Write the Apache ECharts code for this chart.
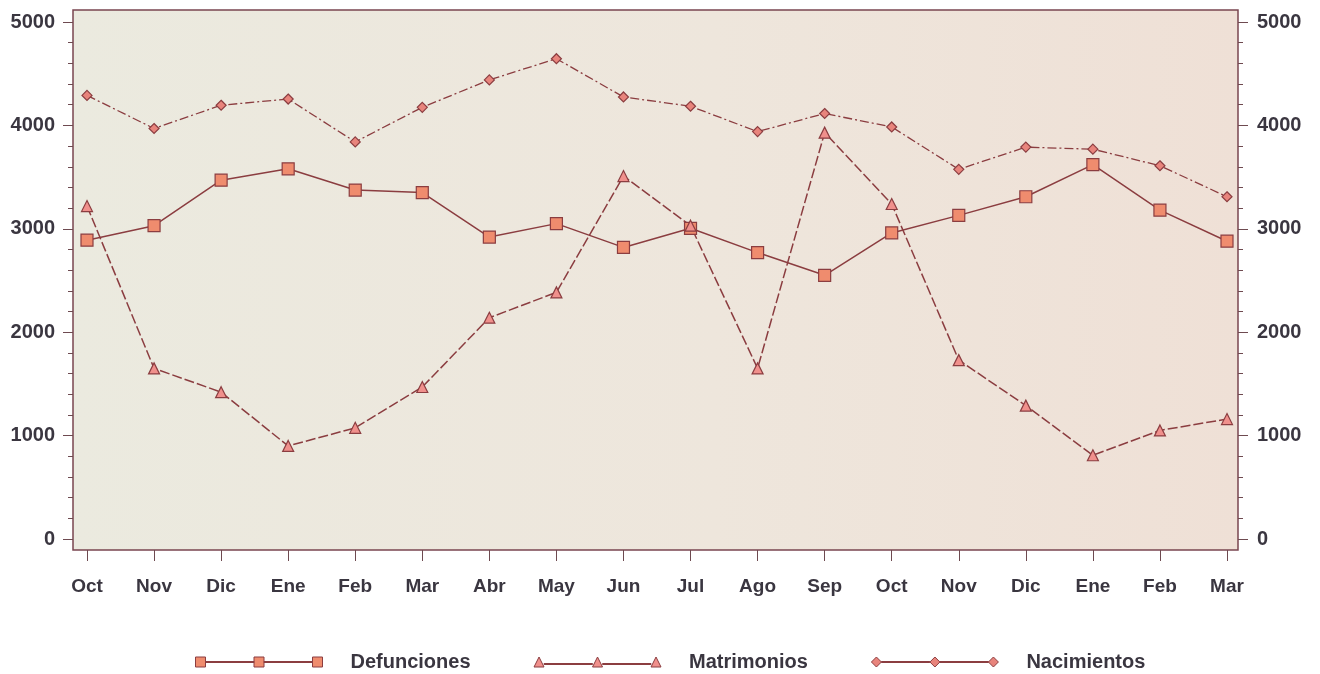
<!DOCTYPE html>
<html><head><meta charset="utf-8">
<script src="https://cdn.jsdelivr.net/npm/echarts@6/dist/echarts.min.js"></script>
<style>html,body{margin:0;padding:0;background:#fff;}#c{width:1320px;height:674px;}</style>
</head><body><div id="c"></div>
<script>
const months = ['Oct','Nov','Dic','Ene','Feb','Mar','Abr','May','Jun','Jul','Ago','Sep','Oct','Nov','Dic','Ene','Feb','Mar'];
const defunciones = [2890,3030,3470,3580,3375,3350,2920,3050,2820,3005,2770,2550,2960,3130,3310,3620,3180,2880];
const matrimonios = [3220,1650,1420,900,1075,1470,2140,2385,3510,3030,1650,3930,3240,1730,1290,810,1050,1160];
const nacimientos = [4290,3970,4195,4255,3840,4175,4440,4645,4275,4185,3940,4115,3985,3575,3790,3770,3610,3310];
const yTicks = [0,1000,2000,3000,4000,5000];

const lineCol = '#8b3d40';
const textCol = '#3a3640';
const font = '"Liberation Sans", Arial, sans-serif';

const chart = echarts.init(document.getElementById('c'));
function yAxis(pos, off, margin) {
  return {
    type:'value', gridIndex:0, position:pos, offset:off, min:yTicks[0], max:yTicks[yTicks.length-1], interval:1000,
    axisLine:{show:false},
    axisTick:{show:true, inside:false, length:10, lineStyle:{color:'#6e4a50', width:1}},
    minorTick:{show:true, splitNumber:5, length:5, lineStyle:{color:'#6e4a50', width:1}},
    splitLine:{show:false},
    axisLabel:{margin:margin, color:textCol, fontFamily:font, fontWeight:'bold', fontSize:20, formatter:function(v){return String(v);}}
  };
}
const sqPath = 'path://M0,0h10v10h-10zM10,4.5h48.5v1h-48.5zM58.5,0h10v10h-10zM68.5,4.5h48.5v1h-48.5zM117,0h10v10h-10z';
const triPath = 'path://M5,0L10,10L0,10zM10,6.5h48.5v1h-48.5zM63.5,0L68.5,10L58.5,10zM68.5,6.5h48.5v1h-48.5zM122,0L127,10L117,10z';
const diaPath = 'path://M5,0L10,5L5,10L0,5zM10,4.5h48.5v1h-48.5zM63.5,0L68.5,5L63.5,10L58.5,5zM68.5,4.5h48.5v1h-48.5zM122,0L127,5L122,10L117,5z';

chart.setOption({
  animation:false,
  grid:[
    {left:87, right:93, top:22, bottom:135},
    {left:73, right:82, top:10, bottom:124, show:true, borderColor:'#7a4650', borderWidth:1.5,
     backgroundColor:{type:'linear', x:0, y:0, x2:1, y2:0, colorStops:[{offset:0,color:'#ebeadf'},{offset:0.55,color:'#eee6dc'},{offset:1,color:'#efe0d6'}]}},
    {left:87, right:93, top:22, bottom:124}
  ],
  xAxis:[
    {type:'category', gridIndex:0, data:months, boundaryGap:false, show:false},
    {type:'value', gridIndex:1, show:false},
    {type:'category', gridIndex:2, data:months, boundaryGap:false, position:'bottom',
     axisLine:{show:false}, axisTick:{show:true, inside:false, length:11, lineStyle:{color:'#6e4a50'}},
     axisLabel:{margin:27, color:textCol, fontFamily:font, fontWeight:'bold', fontSize:19, interval:0}}
  ],
  yAxis:[yAxis('left',14,18), yAxis('right',11,19), {type:'value', gridIndex:1, show:false}, {type:'value', gridIndex:2, show:false}],
  legend:{
    left:190, top:647, itemGap:63, itemWidth:127, itemHeight:10,
    textStyle:{color:textCol, fontFamily:font, fontWeight:'bold', fontSize:20, padding:[0,0,0,23]},
    data:[
      {name:'Defunciones', icon:sqPath, itemStyle:{color:'#ef8c6e', borderColor:lineCol, borderWidth:1}},
      {name:'Matrimonios', icon:triPath, itemStyle:{color:'#f0908c', borderColor:lineCol, borderWidth:1}},
      {name:'Nacimientos', icon:diaPath, itemStyle:{color:'#e8847c', borderColor:lineCol, borderWidth:1}}
    ]
  },
  series:[
    {name:'Defunciones', type:'line', data:defunciones, symbol:'rect', symbolSize:12,
     lineStyle:{color:lineCol, width:1.5}, itemStyle:{color:'#ef8c6e', borderColor:lineCol, borderWidth:1.2}},
    {name:'Matrimonios', type:'line', data:matrimonios, symbol:'triangle', symbolSize:11,
     lineStyle:{color:lineCol, width:1.5, type:[10,3]}, itemStyle:{color:'#f0908c', borderColor:lineCol, borderWidth:1.2}},
    {name:'Nacimientos', type:'line', data:nacimientos, symbol:'diamond', symbolSize:10,
     lineStyle:{color:lineCol, width:1.3, type:[9,3,2,3]}, itemStyle:{color:'#e8847c', borderColor:lineCol, borderWidth:1.2}}
  ]
});
</script></body></html>
